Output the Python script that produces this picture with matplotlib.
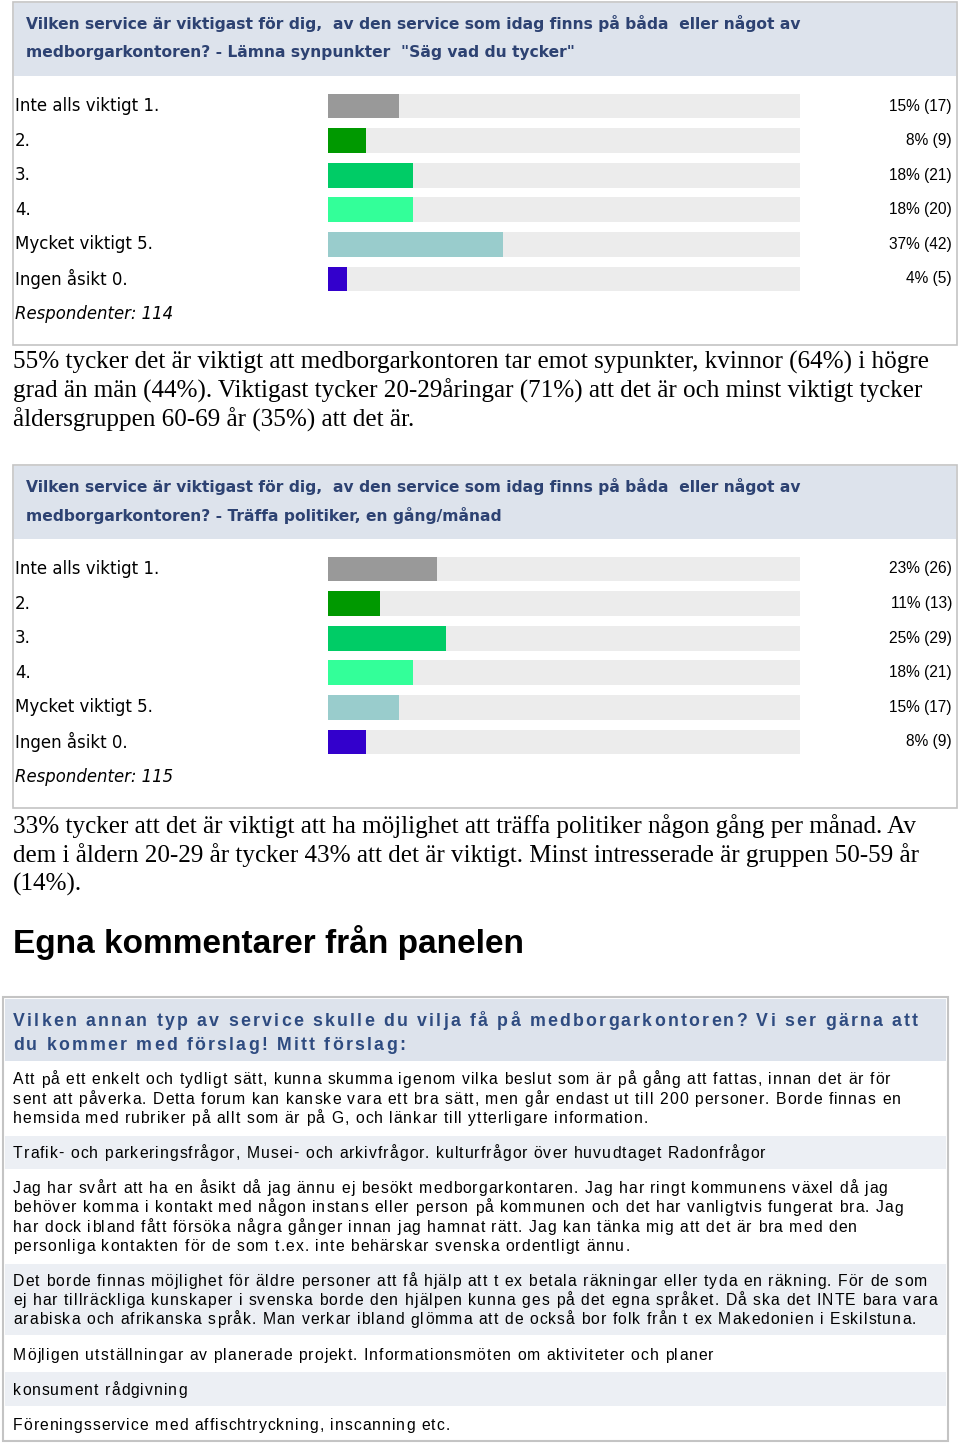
import matplotlib
matplotlib.use("Agg")
import matplotlib.pyplot as plt
from matplotlib.patches import Rectangle
from matplotlib.font_manager import FontProperties, findfont, get_font, fontManager

# --- data -------------------------------------------------------------
categories = ["Inte alls viktigt 1.", "2.", "3.", "4.", "Mycket viktigt 5.", "Ingen åsikt 0."]
bar_colors = ["#999999", "#009900", "#00cc66", "#33ff99", "#99cccc", "#3300cc"]

synpunkter_pct = [15, 8, 18, 18, 37, 4]
synpunkter_n = [17, 9, 21, 20, 42, 5]
synpunkter_resp = 114

politiker_pct = [23, 11, 25, 18, 15, 8]
politiker_n = [26, 13, 29, 21, 17, 9]
politiker_resp = 115

title1 = ["Vilken service är viktigast för dig,  av den service som idag finns på båda  eller något av",
          "medborgarkontoren? - Lämna synpunkter  \"Säg vad du tycker\""]
title2 = ["Vilken service är viktigast för dig,  av den service som idag finns på båda  eller något av",
          "medborgarkontoren? - Träffa politiker, en gång/månad"]

para1 = ["55% tycker det är viktigt att medborgarkontoren tar emot sypunkter, kvinnor (64%) i högre",
         "grad än män (44%). Viktigast tycker 20-29åringar (71%) att det är och minst viktigt tycker",
         "åldersgruppen 60-69 år (35%) att det är."]
para2 = ["33% tycker att det är viktigt att ha möjlighet att träffa politiker någon gång per månad. Av",
         "dem i åldern 20-29 år tycker 43% att det är viktigt. Minst intresserade är gruppen 50-59 år",
         "(14%)."]

heading = "Egna kommentarer från panelen"
comment_title = ["Vilken annan typ av service skulle du vilja få på medborgarkontoren? Vi ser gärna att",
                 "du kommer med förslag! Mitt förslag:"]
comments = [
    ["Att på ett enkelt och tydligt sätt, kunna skumma igenom vilka beslut som är på gång att fattas, innan det är för",
     "sent att påverka. Detta forum kan kanske vara ett bra sätt, men går endast ut till 200 personer. Borde finnas en",
     "hemsida med rubriker på allt som är på G, och länkar till ytterligare information."],
    ["Trafik- och parkeringsfrågor, Musei- och arkivfrågor. kulturfrågor över huvudtaget Radonfrågor"],
    ["Jag har svårt att ha en åsikt då jag ännu ej besökt medborgarkontaren. Jag har ringt kommunens växel då jag",
     "behöver komma i kontakt med någon instans eller person på kommunen och det har vanligtvis fungerat bra. Jag",
     "har dock ibland fått försöka några gånger innan jag hamnat rätt. Jag kan tänka mig att det är bra med den",
     "personliga kontakten för de som t.ex. inte behärskar svenska ordentligt ännu."],
    ["Det borde finnas möjlighet för äldre personer att få hjälp att t ex betala räkningar eller tyda en räkning. För de som",
     "ej har tillräckliga kunskaper i svenska borde den hjälpen kunna ges på det egna språket. Då ska det INTE bara vara",
     "arabiska och afrikanska språk. Man verkar ibland glömma att de också bor folk från t ex Makedonien i Eskilstuna."],
    ["Möjligen utställningar av planerade projekt. Informationsmöten om aktiviteter och planer"],
    ["konsument rådgivning"],
    ["Föreningsservice med affischtryckning, inscanning etc."],
]

W, H = 960, 1445
DPI = 100
HEADER_BG = "#dde3ec"
TITLE_COL = "#2d4272"
BORDER = "#c4c4c4"
ROW_GRAY = "#eceff4"

installed = {f.name for f in fontManager.ttflist}
NARROW = "Liberation Sans Narrow" if "Liberation Sans Narrow" in installed else "Liberation Sans"

fig = plt.figure(figsize=(W / DPI, H / DPI), dpi=DPI)
page = fig.add_axes([0, 0, 1, 1])
page.set_xlim(0, W)
page.set_ylim(H, 0)
page.axis("off")


def advances(s, prop):
    font = get_font(findfont(prop))
    font.set_size(prop.get_size_in_points(), DPI)
    return [font.load_char(ord(c)).linearHoriAdvance / 65536 for c in s]


def spaced_text(x, y, s, prop, track, **kw):
    # letter-spaced text, y is the baseline in page pixels
    for c, a in zip(s, advances(s, prop)):
        if c != " ":
            page.text(x, y, c, fontproperties=prop, va="baseline", ha="left", **kw)
        x += a + track


def tracking_for(s, prop, width):
    return (width - sum(advances(s, prop))) / (len(s) - 1)


def bar_panel(top, bottom, titles, pct, counts, resp):
    page.add_patch(Rectangle((13, top), 944, bottom - top, fc="white", ec=BORDER, lw=1.2))
    page.add_patch(Rectangle((14, top + 1), 942, 73, fc=HEADER_BG, ec="none"))
    for i, t in enumerate(titles):
        page.text(26, top + 21.5 + 29 * i, t, fontsize=11.2, fontweight="bold", color=TITLE_COL,
                  va="center", family="DejaVu Sans")

    row0 = top + 104
    step = 34.6
    ax = fig.add_axes([328 / W, 1 - (row0 + 5.5 * step) / H, 472 / W, 6 * step / H])
    ypos = range(len(pct))
    ax.barh(ypos, [100] * len(pct), height=0.72, color="#ececec")
    ax.barh(ypos, pct, height=0.72, color=bar_colors)
    ax.set_xlim(0, 100)
    ax.set_ylim(5.5, -0.5)
    ax.axis("off")
    tr = ax.get_yaxis_transform()
    lx = (15 - 328) / 472
    rx = (952 - 328) / 472
    for i, (lab, p, n) in enumerate(zip(categories, pct, counts)):
        ax.text(lx, i, lab, transform=tr, va="center", ha="left", fontsize=12,
                family="DejaVu Sans", clip_on=False)
        ax.text(rx, i, "{}% ({})".format(p, n), transform=tr, va="center", ha="right",
                fontsize=11.2, family="Liberation Sans", clip_on=False)
    ax.text(lx, 6, "Respondenter: {}".format(resp), transform=tr, va="center", ha="left",
            fontsize=11.9, style="italic", family="DejaVu Sans", clip_on=False)


bar_panel(2, 345, title1, synpunkter_pct, synpunkter_n, synpunkter_resp)
for i, line in enumerate(para1):
    page.text(13, 362 + 29 * i, line, fontsize=18.1, family="Liberation Serif", va="center")

bar_panel(465, 808, title2, politiker_pct, politiker_n, politiker_resp)
for i, line in enumerate(para2):
    page.text(13, 826 + 29 * i, line, fontsize=18.1, family="Liberation Serif", va="center")

page.text(13, 942, heading, fontsize=24, fontweight="bold", family="Liberation Sans", va="center")

# comments table
tbl_top, tbl_bot = 997, 1441
page.add_patch(Rectangle((3, tbl_top), 945, tbl_bot - tbl_top, fc="white", ec=BORDER, lw=1.5))
page.add_patch(Rectangle((5, tbl_top + 2), 941, 62, fc=HEADER_BG, ec="none"))

head_prop = FontProperties(family=NARROW, weight="bold", size=14.5 if NARROW != "Liberation Sans" else 12.8)
head_track = tracking_for(comment_title[0], head_prop, 905)
for i, t in enumerate(comment_title):
    spaced_text(13, 1026 + 24 * i, t, head_prop, head_track, color="#2e4b80")

body_prop = FontProperties(family=NARROW, size=12.4 if NARROW != "Liberation Sans" else 11.3)
body_track = tracking_for(comments[0][0], body_prop, 877)
line_h = 19.2
y = 1062
for k, rows in enumerate(comments):
    h = 14 + line_h * len(rows)
    if k % 2 == 1:
        page.add_patch(Rectangle((5, y), 941, h, fc=ROW_GRAY, ec="none"))
    for j, line in enumerate(rows):
        spaced_text(13, y + 22.5 + line_h * j, line, body_prop, body_track)
    y += h + 2

fig.savefig("out.png", dpi=DPI)
